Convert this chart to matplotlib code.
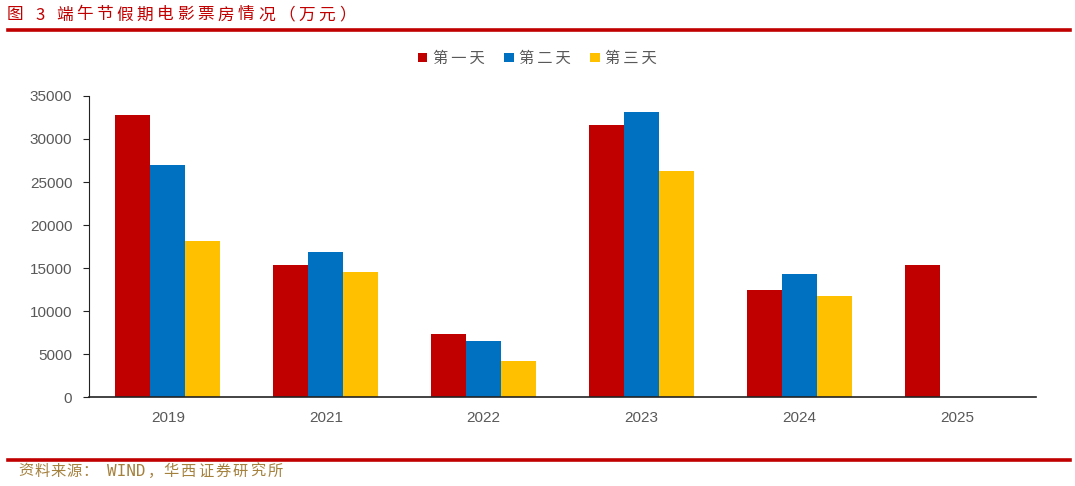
import numpy as np
import matplotlib.pyplot as plt
from matplotlib.lines import Line2D

plt.rcParams['font.family'] = ['Noto Sans CJK SC', 'DejaVu Sans']

years = ['2019', '2021', '2022', '2023', '2024', '2025']
day1 = [32800, 15300, 7300, 31600, 12400, 15300]
day2 = [27000, 16900, 6500, 33100, 14300, np.nan]
day3 = [18100, 14500, 4200, 26300, 11700, np.nan]
series_names = ['第一天', '第二天', '第三天']
colors = ['#C00000', '#0070C0', '#FFC000']

W, H = 1075, 486
fig = plt.figure(figsize=(W / 100, H / 100), dpi=100)
ax = fig.add_axes([0.0828, 0.183, 0.881, 0.6195])

x = np.arange(len(years))
w = 0.222
for i, (vals, name, c) in enumerate(zip([day1, day2, day3], series_names, colors)):
    ax.bar(x + (i - 1) * w, vals, width=w, color=c, label='\u2009'.join(name))

ax.set_xlim(-0.5, len(years) - 0.5)
ax.set_ylim(0, 35000)
ax.set_yticks(np.arange(0, 35001, 5000))
ax.set_xticks(x)
ax.set_xticklabels(years)
for s in ['top', 'right']:
    ax.spines[s].set_visible(False)
ax.spines['left'].set_color('#222222')
ax.spines['bottom'].set_color('#222222')
ax.spines['bottom'].set_linewidth(1.2)
ax.tick_params(axis='y', direction='out', length=4, colors='#222222',
               labelcolor='#595959', labelsize=11, pad=8)
ax.tick_params(axis='x', length=0, labelcolor='#595959', labelsize=11, pad=10)
for lbl in ax.get_xticklabels() + ax.get_yticklabels():
    lbl.set_fontfamily(['Liberation Sans', 'DejaVu Sans'])

leg = fig.legend(loc='center', bbox_to_anchor=(0.5, 0.88), ncol=3, frameon=False,
                 fontsize=11, handlelength=0.6, handleheight=0.6,
                 handletextpad=0.35, columnspacing=1.3)
for t in leg.get_texts():
    t.set_color('#595959')


def spaced(text, x0, y, step, **kw):
    # place characters one by one (pixel positions) to mimic the wide spacing
    for k, ch in enumerate(text):
        fig.text((x0 + k * step) / W, 1 - y / H, ch, va='center', ha='left', **kw)


red = '#C00000'
spaced('图', 7, 15, 20, color=red, fontsize=12)
spaced('3', 35, 15, 20, color=red, fontsize=12)
spaced('端午节假期电影票房情况（万元）', 56, 15, 20.2, color=red, fontsize=12)
fig.add_artist(Line2D([0.007, 0.995], [0.938, 0.938], color=red, lw=2.6,
                      transform=fig.transFigure))
fig.add_artist(Line2D([0.007, 0.995], [0.054, 0.054], color=red, lw=2.6,
                      transform=fig.transFigure))

gold = '#A5813E'
spaced('资料来源：', 18, 471, 16.2, color=gold, fontsize=11)
fig.text(107 / W, 1 - 471 / H, 'WIND', color=gold, fontsize=11.5,
         family='DejaVu Sans Mono', va='center', ha='left')
spaced('，', 148, 471, 10, color=gold, fontsize=11)
spaced('华西证券研究所', 163, 471, 17.5, color=gold, fontsize=11)

fig.savefig('out.png', dpi=100)
